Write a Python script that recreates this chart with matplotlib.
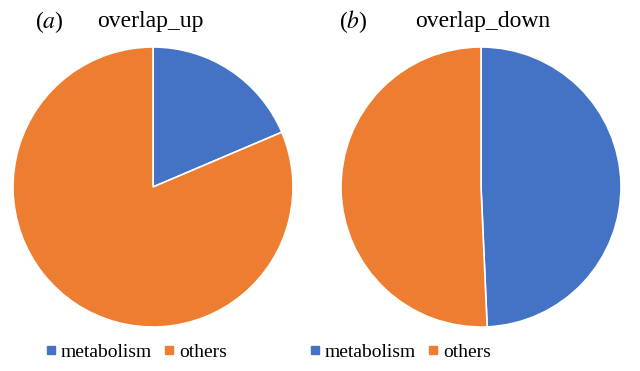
import matplotlib.pyplot as plt
from matplotlib.lines import Line2D

# datos
categorias = ['metabolism', 'others']
overlap_up = [18.6, 81.4]
overlap_down = [49.3, 50.7]
colores = ['#4472C4', '#ED7D31']

plt.rcParams['font.family'] = ['Liberation Serif', 'DejaVu Serif']
plt.rcParams['mathtext.fontset'] = 'stix'

fig = plt.figure(figsize=(6.4, 3.71), dpi=100)

ax1 = fig.add_axes([13 / 640, 44 / 371, 280 / 640, 280 / 371])
ax2 = fig.add_axes([341 / 640, 44 / 371, 280 / 640, 280 / 371])

for ax, valores in [(ax1, overlap_up), (ax2, overlap_down)]:
    ax.pie(valores, colors=colores, startangle=90, counterclock=False,
           wedgeprops=dict(edgecolor='white', linewidth=1.2))
    ax.set_xlim(-1, 1)
    ax.set_ylim(-1, 1)
    ax.set_aspect('equal')

# títulos
fig.text(35 / 640, 1 - 22 / 371, '($a$)', fontsize=17, va='center', ha='left')
fig.text(97 / 640, 1 - 22 / 371, 'overlap_up', fontsize=17, va='center', ha='left')
fig.text(339 / 640, 1 - 22 / 371, '($b$)', fontsize=17, va='center', ha='left')
fig.text(415 / 640, 1 - 22 / 371, 'overlap_down', fontsize=17, va='center', ha='left')

# leyendas
handles = [Line2D([], [], marker='s', linestyle='none', markersize=6,
                  color=c) for c in colores]
for cx in [136 / 640, 400 / 640]:
    fig.legend(handles, categorias, loc='center', bbox_to_anchor=(cx, 1 - 352 / 371),
               ncol=2, frameon=False, fontsize=14, handlelength=0.6,
               handletextpad=0.2, columnspacing=0.6)

plt.savefig('out.png', dpi=100)
